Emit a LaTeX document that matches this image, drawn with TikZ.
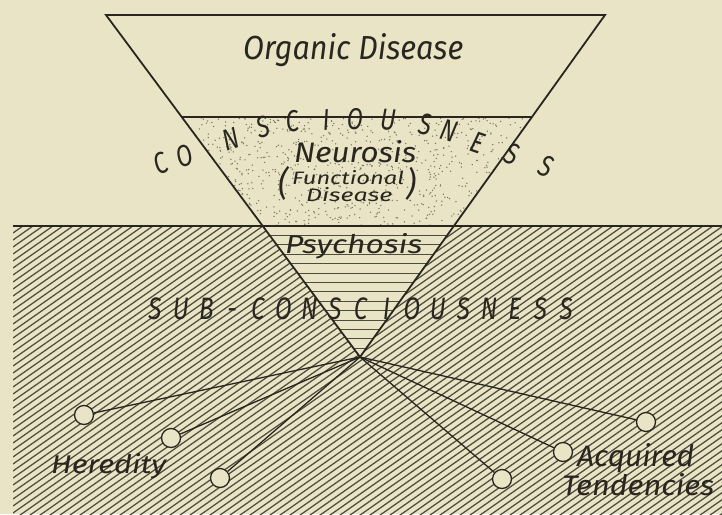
\documentclass[tikz,border=0pt]{standalone}
\usepackage{fontspec}
\setmainfont{Fira Sans}
\usepackage{graphicx}
\usetikzlibrary{calc}
\definecolor{paper}{RGB}{233,228,198}
\definecolor{ink}{RGB}{40,38,30}
\definecolor{hatchc}{RGB}{78,76,60}
\definecolor{dotc}{RGB}{120,116,96}
\newcommand\fitt[3]{\resizebox{#1pt}{#2pt}{\itshape #3}}
\newcommand\narrowit[1]{\scalebox{0.78}[1]{\itshape #1}}
\tikzset{
  edge/.style={draw=ink, line width=1.8pt},
  hatchline/.style={draw=hatchc, line width=1.25pt},
  stripe/.style={draw=hatchc, line width=0.9pt},
  spoke/.style={draw=ink, line width=1.3pt},
  knob/.style={circle, draw=ink, fill=paper, line width=1.3pt, minimum size=19pt, inner sep=0pt},
  lbl/.style={inner sep=0pt, text=ink},
  arcl/.style={inner sep=0pt, text=ink, font=\fontsize{30pt}{30pt}\selectfont},
  subl/.style={inner sep=0pt, text=ink, anchor=base, font=\fontsize{31pt}{31pt}\selectfont}
}
\begin{document}
\begin{tikzpicture}[x=1pt,y=-1pt]
\useasboundingbox (0,0) rectangle (722,514);
\fill[paper] (0,0) rectangle (722,514);
\coordinate (TL) at (106,15);
\coordinate (TR) at (605,15);
\coordinate (AP) at (360,357);
\coordinate (CL) at ($(TL)!0.2982!(AP)$);
\coordinate (CR) at ($(TR)!0.2982!(AP)$);
\coordinate (SL) at ($(TL)!0.6170!(AP)$);
\coordinate (SR) at ($(TR)!0.6170!(AP)$);
\coordinate (HL) at (13,226);
\coordinate (HR) at (722,226);
% diagonal hatching of the sub-conscious
\begin{scope}
  \clip (13,226) rectangle (722,514);
  \foreach \k in {0,...,116} \draw[hatchline] (13,{226+7*\k}) -- ++(720,-504);
\end{scope}
% psychosis part of the triangle
\fill[paper] (SL) -- (SR) -- (AP) -- cycle;
\begin{scope}
  \clip (SL) -- (SR) -- (AP) -- cycle;
  \foreach \k in {1,...,14} \draw[stripe] (250,{226+9.4*\k}) -- (470,{226+9.4*\k});
\end{scope}
% stippled neurosis band
\begin{scope}
  \clip (CL) -- (CR) -- (SR) -- (SL) -- cycle;
  \pgfmathsetseed{7}
  \foreach \i in {1,...,900} \fill[dotc] ({182+350*rnd},{117+109*rnd}) circle (0.75);
\end{scope}
% outlines
\draw[edge] (TL) -- (TR) -- (AP) -- cycle;
\draw[edge] (CL) -- (CR);
\draw[edge] (HL) -- (HR);
% knobs and spokes
\node[knob] (k1) at (84,415) {};
\node[knob] (k2) at (171,438) {};
\node[knob] (k3) at (220,478) {};
\node[knob] (k4) at (502,479) {};
\node[knob] (k5) at (563,452) {};
\node[knob] (k6) at (646,422) {};
\foreach \k in {k1,k2,k3,k4,k5,k6} \draw[spoke] (AP) -- (\k);
% texts
\node[lbl, anchor=base west] (org) at (243,59) {\fitt{220}{26}{Organic Disease}};
\node[lbl, anchor=base west] (neu) at (294,162) {\fitt{122}{22}{Neurosis}};
\node[lbl, anchor=base west] (fun) at (292,184) {\fitt{112}{14}{Functional}};
\node[lbl, anchor=base west] (dis) at (306,201) {\fitt{86}{14}{Disease}};
\node[lbl, anchor=north west] (lp) at (278,166) {\resizebox*{10pt}{34pt}{\itshape (}};
\node[lbl, anchor=north west] (rp) at (406,167) {\resizebox*{10pt}{33pt}{\itshape )}};
\node[lbl, anchor=base west] (psy) at (285,253) {\fitt{137}{20}{Psychosis}};
\node[lbl, anchor=base west] (her) at (51,473) {\fitt{115}{20}{Heredity}};
\node[lbl, anchor=base west] (acq) at (577,466) {\fitt{117}{23}{Acquired}};
\node[lbl, anchor=base west] (ten) at (562,495) {\fitt{152}{22}{Tendencies}};
% arched CONSCIOUSNESS
\foreach \l/\x/\y/\r [count=\i] in {C/161/163/22, O/185/156/20, N/231/139/18, S/263/127/14, C/292/121/8, I/326/120/3, O/355/119/0, U/388/120/-4, S/425/124/-10, N/449/131/-16, E/478/143/-19, S/512/154/-20, S/546/166/-22}
  \node[arcl, rotate=\r] (c\i) at (\x,\y) {\narrowit{\l}};
% SUB-CONSCIOUSNESS
\foreach \l [count=\i from 0] in {S,U,B,-,C,O,N,S,C,I,O,U,S,N,E,S,S}
  \node[subl] (s\i) at ({155+25.7*\i},319) {\narrowit{\l}};
\end{tikzpicture}
\end{document}
